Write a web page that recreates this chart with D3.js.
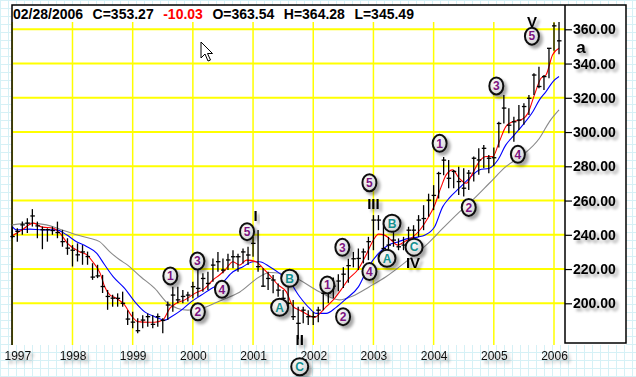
<!DOCTYPE html>
<html>
<head>
<meta charset="utf-8">
<script src="https://cdn.jsdelivr.net/npm/d3@7"></script>
<style>
    body { margin: 0; background: #fff; }
    svg { display: block; font-family: "Liberation Sans", Arial, sans-serif; }
</style>
</head>
<body>
<div id="chart"></div>
<script>
// monthly bars, index 0 = Jan 1997 ... 109 = Feb 2006
const highs = [244.8, 243.8, 247.7, 249.7, 255, 247.7, 244.8, 243.8, 244.8, 247.7, 242.9, 238,
    234, 235, 234, 230.2, 223.4, 222.5, 216.6, 207.8, 205, 205.8, 206.8, 196,
    195, 191.2, 193, 194, 193, 194, 191.2, 201, 209.7, 209.7, 207.8, 206.8,
    212.6, 221.4, 217.5, 218.4, 226.2, 230, 226.2, 229, 231, 229, 232, 233,
    238.9, 242.8, 220.4, 218.4, 216.5, 211.6, 207.7, 214, 202, 198, 198, 196,
    195, 198, 209.7, 212, 215, 217, 221, 226, 230, 232, 232, 238.8,
    251.5, 251.5, 246.6, 238.8, 242.7, 237.9, 238.8, 244.7, 245.6, 251.5, 257.3, 264,
    269, 276.8, 285.5, 283.7, 277.9, 279.8, 278.9, 277.9, 285.7, 290.5, 292.5, 286.6,
    291, 306, 321.6, 313.9, 309, 315.8, 316.8, 321.7, 334.3, 338.2, 333.3, 349,
    364, 364.28];
const lows = [238, 236, 240, 241, 244.8, 238, 231.6, 236, 240, 238, 233, 228.3,
    221.5, 224.4, 222.5, 222.5, 213.7, 214.7, 206, 196.2, 198, 198, 198, 187.3,
    185.4, 182.5, 185.4, 186.3, 185.4, 186.3, 182.5, 190.2, 195, 200, 200, 201,
    203, 203.8, 206.8, 207.7, 212.6, 218.4, 217.5, 219.4, 220.4, 218.4, 223.3, 222.3,
    227.2, 218.4, 209.7, 207.7, 205.8, 203.8, 201, 198, 190.2, 179, 188.3, 187.3,
    187.3, 189, 196, 200, 203, 207, 209, 212, 221, 219.4, 223.3, 225.2,
    231, 242.7, 231, 230, 233, 231, 231, 235, 236.9, 238.8, 242.7, 250.5,
    254.4, 261.2, 274.8, 267.2, 267.2, 263.3, 262.3, 266.2, 271.1, 275, 278.9, 276,
    280, 291, 305, 299.3, 294.4, 301.2, 304.2, 310, 321.7, 325.6, 324.6, 331.4,
    347.5, 345.49];
const closes = [239, 242, 245.8, 246.8, 251, 245.2, 243, 243, 242.5, 241.3, 236, 232.2,
    231, 228.3, 230, 227.3, 215.3, 216, 209.8, 204, 203, 202.9, 200, 190.8,
    189, 184, 190.2, 192.2, 187.7, 192.2, 190, 199, 204.8, 202, 204, 204.8,
    209.7, 208.7, 214.5, 211.6, 222.3, 224.3, 219.4, 225.3, 227.2, 227.2, 230, 228.2,
    235, 221.4, 210, 214.5, 213.6, 207.7, 202.9, 200, 192.2, 188.3, 196, 192.2,
    192.2, 196, 205.8, 206, 210, 213, 217, 222, 226, 226.2, 230, 236,
    248.6, 248.6, 232, 234, 236.9, 233, 234, 242.7, 242.7, 248.6, 249.5, 260.2,
    263, 275.8, 283.6, 273, 277, 271.1, 267.2, 276, 284.7, 283.7, 290.5, 284.7,
    285, 305, 314, 304, 306, 307, 314.9, 319.7, 333.3, 326.6, 332.4, 348.9,
    362, 353.27];

// moving average lines: [month index, value]
const redMA = [[0, 239.5], [2, 243], [4.2, 246.8], [6, 244.5], [8, 244], [9.5, 241], [11, 235],
    [13.5, 230], [15, 228], [16, 224.4], [17.5, 217.6], [18.4, 209.8], [19.4, 205], [20.7, 203],
    [22.4, 199], [23.7, 193], [25, 189.3], [27, 188.9], [28.4, 188.9], [30, 190.2], [31.4, 197],
    [32.7, 200], [34.4, 202], [36.4, 205.8], [38.4, 208.7], [40, 213.6], [41.3, 216.5], [42.3, 219],
    [44, 224.3], [45.3, 222.3], [46.7, 225.2], [48.6, 224.3], [50, 220.4], [51.3, 216.5], [53, 210.7],
    [54.6, 206.8], [56, 198], [57.3, 196], [59, 193.2], [60.3, 191.8], [61.3, 194], [62.6, 198],
    [64, 202], [65.5, 207.7], [67, 214], [69, 220], [70.5, 228], [72, 237], [73, 240.4],
    [74.2, 239.8], [75.5, 237], [76.9, 234], [78.2, 236], [79.9, 238.8], [81.5, 243.7], [82.8, 249.5],
    [84.2, 257.3], [85.5, 268], [86.5, 275], [87.8, 277.9], [89.1, 273], [90.5, 270.1], [91.8, 276],
    [93.1, 282.8], [94.5, 285.7], [95.8, 285.7], [97.1, 294.4], [98.4, 303.2], [99.8, 306.1],
    [101.4, 307.1], [102.8, 311], [104.1, 321.7], [105.4, 331.4], [106.4, 333.3], [107.7, 345],
    [109, 348.9]];
const blueMA = [[0, 244.8], [0.8, 242.9], [3.5, 243.3], [6.1, 242.9], [8.8, 242.9], [10.8, 240],
    [12.8, 236], [14.8, 233.2], [16.8, 229.3], [18.4, 222.5], [20.1, 215.6], [22.4, 208.7],
    [24.4, 201], [26.4, 195], [28.4, 192.2], [30.4, 190.2], [31.7, 192.2], [33.7, 196], [35.7, 201],
    [37.7, 204.8], [39.7, 208.7], [41.7, 211.6], [44, 218.4], [46, 221.4], [48, 224.3], [49.3, 224.3],
    [51.3, 221.4], [53.3, 217.5], [55.3, 212.6], [57.3, 203.8], [59.3, 197], [60.6, 194.1],
    [62.6, 194.1], [64.5, 197.5], [66.5, 202.5], [69, 209.6], [71, 221.3], [73, 229.1], [75, 234],
    [77, 236], [79, 237.9], [81, 238.8], [82.2, 239.8], [84.2, 244.7], [85.8, 256.3], [87.1, 261.4],
    [89.1, 267.2], [91.1, 273], [93.1, 277.9], [95.1, 278.9], [96.8, 283.7], [98.4, 292.5],
    [100.1, 298.3], [101.8, 304.2], [103.8, 312], [105.1, 318.8], [106.4, 323.6], [107.8, 329.5],
    [109, 332.4]];
const grayMA = [[0, 245.8], [3.5, 246.8], [6.8, 245.8], [9.5, 243.3], [12.8, 240], [15.4, 238],
    [17.4, 236], [19.4, 230.2], [21.4, 225.4], [23, 222.3], [25.6, 215.5], [28.4, 208.7], [31, 200],
    [33, 197], [35, 196], [37.7, 197], [40.3, 200], [42.3, 202.5], [45.3, 206.5], [49.3, 215.5],
    [51.3, 218], [53.5, 217.5], [56.6, 214.6], [61.2, 206.8], [65.2, 202], [67.9, 204.3],
    [71.2, 209.7], [74.5, 215.5], [78.5, 224.3], [82.5, 234], [85.8, 243.7], [88.9, 252.7],
    [91.8, 260.4], [95.1, 270.1], [98.4, 279.8], [101.8, 286.7], [105.1, 296.4], [107.1, 306.1],
    [109, 312.9]];

const yearTicks = [1997, 1998, 1999, 2000, 2001, 2002, 2003, 2004, 2005, 2006];
const priceTicks = [200, 220, 240, 260, 280, 300, 320, 340, 360];

// Elliott wave counts: [month index, value, label]
const waveNumbers = [[31.5, 216, "1"], [37, 195, "2"], [36.9, 224.7, "3"], [41.8, 208.2, "4"],
    [46.8, 241.8, "5"], [62.8, 210.7, "1"], [65.95, 192.2, "2"], [65.8, 232.7, "3"],
    [71.2, 218.5, "4"], [71.2, 270.4, "5"], [85.2, 293.4, "1"], [91, 256, "2"],
    [96.5, 326.9, "3"], [100.8, 287, "4"], [103.6, 356, "5"]];
const waveLetters = [[53.3, 197.7, "A"], [55.3, 214.6, "B"], [57.3, 163, "C"],
    [74.7, 226.3, "A"], [75.7, 246.7, "B"], [80.1, 232.8, "C"]];
const romanLabels = [[48.5, 251.5, "I"], [57.3, 178.6, "II"], [72, 258.4, "III"],
    [79.9, 223.6, "IV"], [103.6, 364.5, "V"]];

const headerParts = [["02/28/2006", "#000"], ["C=353.27", "#000"], ["-10.03", "#f00"],
    ["O=363.54", "#000"], ["H=364.28", "#000"], ["L=345.49", "#000"]];

const W = 636, H = 377;
const plot = {left: 12, right: 565, top: 5, bottom: 345};

const svg = d3.select("#chart").append("svg")
    .attr("width", W)
    .attr("height", H);

const defs = svg.append("defs");

// graph paper background
const pat = defs.append("pattern")
    .attr("id", "paper")
    .attr("width", 8).attr("height", 8)
    .attr("patternUnits", "userSpaceOnUse");
pat.append("rect").attr("width", 8).attr("height", 8).attr("fill", "#fff");
pat.append("path").attr("d", "M0,0.5H8M0.5,0V8")
    .attr("stroke", "#d6f1f6").attr("stroke-width", 1);

const shadow = defs.append("filter").attr("id", "shadow")
    .attr("x", "-50%").attr("y", "-50%").attr("width", "200%").attr("height", "200%");
shadow.append("feDropShadow")
    .attr("dx", 3).attr("dy", 3).attr("stdDeviation", 1.6)
    .attr("flood-color", "#000").attr("flood-opacity", 0.35);

const grad = defs.append("radialGradient").attr("id", "bubble")
    .attr("cx", "40%").attr("cy", "35%").attr("r", "70%");
grad.append("stop").attr("offset", "0%").attr("stop-color", "#ffffff");
grad.append("stop").attr("offset", "100%").attr("stop-color", "#cfcfcf");

svg.append("rect").attr("width", W).attr("height", H).attr("fill", "url(#paper)");

// plot area and price box
svg.append("rect")
    .attr("x", plot.left).attr("y", plot.top)
    .attr("width", 626 - plot.left).attr("height", plot.bottom - plot.top)
    .attr("fill", "#fff");

// scales
const x = d3.scaleLinear().domain([0, 108]).range([12.3, 554]);
const y = d3.scaleLinear().domain([200, 360]).range([303.3, 29.3]);

// horizontal grid
svg.append("g").selectAll("line")
    .data(priceTicks)
    .join("line")
    .attr("x1", plot.left).attr("x2", plot.right)
    .attr("y1", d => y(d)).attr("y2", d => y(d))
    .attr("stroke", "#ffff00").attr("stroke-width", 2);

// vertical grid at the years
svg.append("g").selectAll("line")
    .data(yearTicks)
    .join("line")
    .attr("x1", d => x((d - 1997) * 12)).attr("x2", d => x((d - 1997) * 12))
    .attr("y1", 22).attr("y2", plot.bottom)
    .attr("stroke", "#ffff00").attr("stroke-width", 1.5);

// borders
svg.append("path")
    .attr("d", `M${plot.left},${plot.bottom}V${plot.top}H626V343H${plot.right}V${plot.top}`)
    .attr("fill", "none").attr("stroke", "#000").attr("stroke-width", 1.5);

// moving averages
const line = d3.line()
    .x(d => x(d[0]))
    .y(d => y(d[1]))
    .curve(d3.curveMonotoneX);

[[grayMA, "#8a8a8a"], [blueMA, "#0000ff"], [redMA, "#ff0000"]].forEach(([data, color]) => {
    svg.append("path")
        .datum(data)
        .attr("d", line)
        .attr("fill", "none")
        .attr("stroke", color)
        .attr("stroke-width", 1.1);
});

// HLC bars
const bars = svg.append("g").attr("stroke", "#000").attr("stroke-width", 1.3);
closes.forEach((c, i) => {
    bars.append("line")
        .attr("x1", x(i)).attr("x2", x(i))
        .attr("y1", y(highs[i])).attr("y2", y(lows[i]));
    bars.append("line")
        .attr("x1", x(i) - 2).attr("x2", x(i) + 2.5)
        .attr("y1", y(c)).attr("y2", y(c));
});

// right price axis
const yAxis = svg.append("g")
    .attr("transform", `translate(${plot.right},0)`)
    .call(d3.axisRight(y).tickValues(priceTicks).tickSize(7).tickPadding(1).tickFormat(d3.format(".2f")));
yAxis.select(".domain").remove();
yAxis.selectAll("line").attr("stroke", "#000").attr("stroke-width", 1.2);
yAxis.selectAll("text")
    .attr("fill", "#000")
    .style("font-size", "14px")
    .style("font-weight", "bold")
    .style("font-family", "'Liberation Sans', Arial, sans-serif")
    .attr("filter", "url(#shadow)");

// year labels
const xAxis = svg.append("g")
    .attr("transform", `translate(0,${plot.bottom + 2})`)
    .call(d3.axisBottom(x).tickValues(yearTicks.map(d => (d - 1997) * 12)).tickSize(0).tickPadding(4)
        .tickFormat(m => 1997 + m / 12));
xAxis.select(".domain").remove();
xAxis.selectAll("text")
    .attr("fill", "#111")
    .style("font-size", "12px")
    .style("font-family", "'Liberation Sans', Arial, sans-serif")
    .attr("filter", "url(#shadow)");
xAxis.selectAll(".tick").filter(d => d === 0).select("text").attr("dx", 5);

// wave bubbles
function bubble(d, color, rx, ry) {
    const g = svg.append("g")
        .attr("transform", `translate(${x(d[0])},${y(d[1])})`);
    g.append("ellipse")
        .attr("rx", rx).attr("ry", ry)
        .attr("fill", "url(#bubble)")
        .attr("stroke", "#111").attr("stroke-width", 2)
        .attr("filter", "url(#shadow)");
    g.append("text")
        .attr("text-anchor", "middle")
        .attr("dy", "0.36em")
        .attr("fill", color)
        .style("font-size", "12px")
        .style("font-weight", "bold")
        .text(d[2]);
}
waveNumbers.forEach(d => bubble(d, "#7c127f", 7, 8.5));
waveLetters.forEach(d => bubble(d, "#138f8f", 8.5, 8.5));

// roman wave degrees
svg.append("g").selectAll("text")
    .data(romanLabels)
    .join("text")
    .attr("x", d => x(d[0]))
    .attr("y", d => y(d[1]))
    .attr("dy", "0.36em")
    .attr("text-anchor", "middle")
    .attr("fill", "#000")
    .attr("filter", "url(#shadow)")
    .style("font-size", "15px")
    .style("font-weight", "bold")
    .text(d => d[2]);

svg.append("text")
    .attr("x", 581).attr("y", 53)
    .attr("text-anchor", "middle")
    .attr("filter", "url(#shadow)")
    .style("font-size", "17px")
    .style("font-weight", "bold")
    .text("a");

// header line
const header = svg.append("text")
    .attr("x", 13).attr("y", 19)
    .style("font-size", "14px")
    .style("font-weight", "bold");
header.selectAll("tspan")
    .data(headerParts)
    .join("tspan")
    .attr("dx", (d, i) => i === 0 ? 0 : 9.5)
    .attr("fill", d => d[1])
    .text(d => d[0]);

// mouse pointer left on the screenshot
svg.append("path")
    .attr("transform", "translate(201,42)")
    .attr("d", "M0,0V16L4,12L7,19L9.5,18L6.5,11.5H11.5Z")
    .attr("fill", "#fff")
    .attr("stroke", "#000")
    .attr("stroke-width", 1);
</script>
</body>
</html>
